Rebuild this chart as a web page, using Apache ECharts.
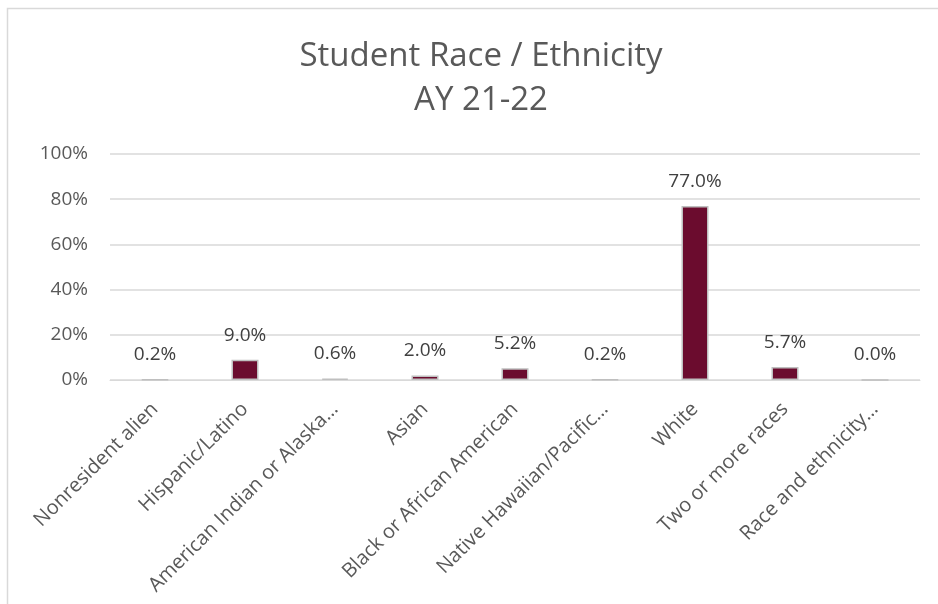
<!DOCTYPE html>
<html><head><meta charset="utf-8">
<script src="https://cdn.jsdelivr.net/npm/echarts@6/dist/echarts.min.js"></script>
<style>html,body{margin:0;padding:0;background:#fff}#c{width:938px;height:604px}</style>
</head><body><div id="c"></div>
<script>
const categories = ["Nonresident alien","Hispanic/Latino","American Indian or Alaska…","Asian","Black or African American","Native Hawaiian/Pacific…","White","Two or more races","Race and ethnicity…"];
const values = [0.2, 9.0, 0.6, 2.0, 5.2, 0.2, 77.0, 5.7, 0.0];
const yTicks = [0, 20, 40, 60, 80, 100];
const titleLines = ["Student Race / Ethnicity", "AY 21-22"];

const FONT = "Open Sans";
const chart = echarts.init(document.getElementById('c'), null, {renderer:'canvas'});
chart.setOption({
  backgroundColor: '#fff',
  animation: false,
  graphic: [{type:'rect', shape:{x:7.5,y:8.5,width:1000,height:1000}, style:{fill:'none', stroke:'#D9D9D9', lineWidth:1.5}, silent:true}],
  title: {
    text: titleLines.join('\n'),
    left: 476, top: 30, textAlign: 'center',
    textStyle: {fontFamily: FONT, fontSize: 33, fontWeight: 'normal', color: '#595959', lineHeight: 44}
  },
  grid: {left: 110, right: 18, top: 154, bottom: 224, containLabel: false},
  xAxis: {
    type: 'category', data: categories,
    axisLine: {lineStyle: {color: '#D9D9D9', width: 1}},
    axisTick: {show: false},
    axisLabel: {rotate: 45, interval: 0, margin: 26, fontFamily: FONT, fontSize: 20, color: '#595959'}
  },
  yAxis: {
    type: 'value', min: 0, max: 100, interval: 20,
    axisLine: {show: false}, axisTick: {show: false},
    splitLine: {lineStyle: {color: '#D9D9D9', width: 1.5}},
    axisLabel: {formatter: v => yTicks.includes(v) ? v + '%' : '', margin: 22, fontFamily: FONT, fontSize: 19, color: '#595959'}
  },
  series: [{
    type: 'bar', data: values, barWidth: 27,
    itemStyle: {color: '#6B0C2E', borderColor: '#BFBFBF', borderWidth: 1.5},
    label: {show: true, position: 'top', distance: 15, formatter: p => p.value.toFixed(1) + '%', fontFamily: FONT, fontSize: 19, color: '#404040'}
  }]
});
</script></body></html>
